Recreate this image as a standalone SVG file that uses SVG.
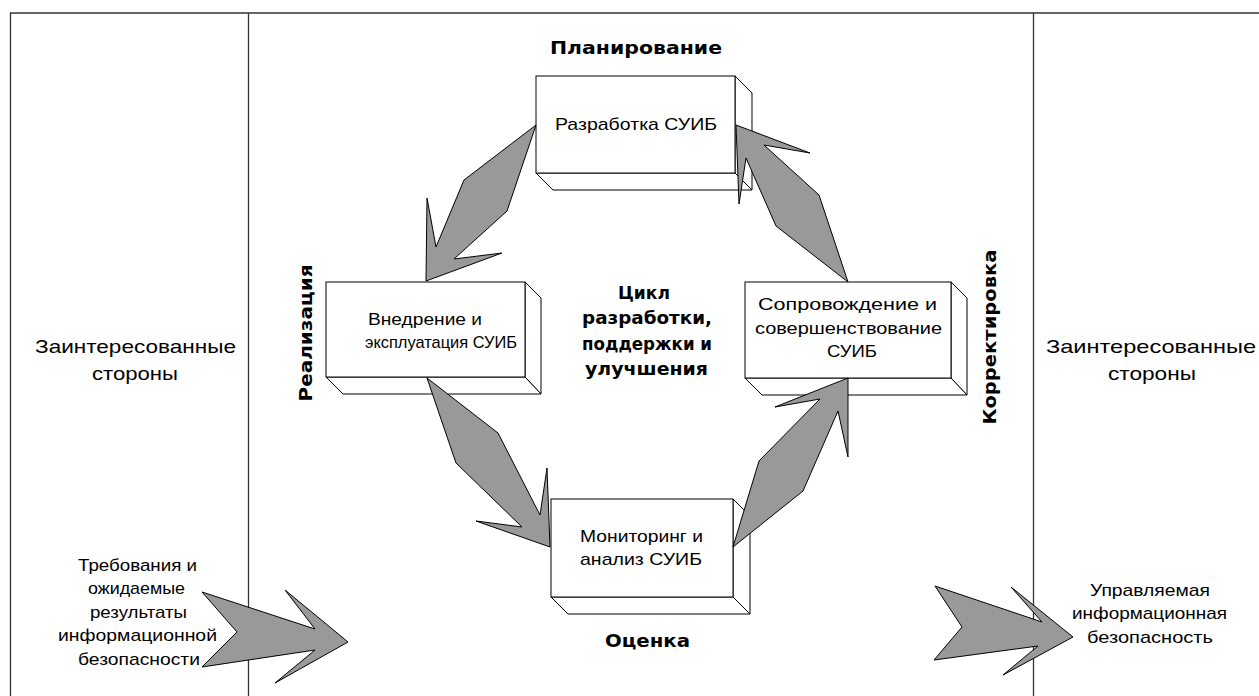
<svg xmlns="http://www.w3.org/2000/svg" width="1259" height="696" viewBox="0 0 1259 696">
<style>
.frame{stroke:#333;stroke-width:1.3;fill:none}
.face{fill:#fff;stroke:#000;stroke-width:1}
.arrow{fill:#999;stroke:#000;stroke-width:1;stroke-linejoin:miter}
.t{font-family:"Liberation Sans",Arial,sans-serif;font-size:17px;fill:#000}
.b{font-family:"DejaVu Sans","Liberation Sans",sans-serif;font-weight:bold;font-size:18px;fill:#000}
.big{font-family:"Liberation Sans",Arial,sans-serif;font-size:19px;fill:#000}
</style>
<rect width="1259" height="696" fill="#fff"/>
<g id="frame">
<line class="frame" x1="10" y1="13" x2="1259" y2="13"/>
<line class="frame" x1="10.5" y1="13" x2="10.5" y2="696"/>
<line class="frame" x1="248.5" y1="13" x2="248.5" y2="696"/>
<line class="frame" x1="1033.5" y1="13" x2="1033.5" y2="696"/>
</g>
<g id="stakeholders-left">
<text class="big" x="35" y="353" textLength="201" lengthAdjust="spacingAndGlyphs">Заинтересованные</text>
<text class="big" x="92" y="380" textLength="86" lengthAdjust="spacingAndGlyphs">стороны</text>
</g>
<g id="stakeholders-right">
<text class="big" x="1046" y="353" textLength="210" lengthAdjust="spacingAndGlyphs">Заинтересованные</text>
<text class="big" x="1108" y="380" textLength="88" lengthAdjust="spacingAndGlyphs">стороны</text>
</g>
<g id="label-plan"><text class="b" x="550" y="54" textLength="172" lengthAdjust="spacingAndGlyphs">Планирование</text></g>
<g id="label-check"><text class="b" x="605" y="647" textLength="85" lengthAdjust="spacingAndGlyphs">Оценка</text></g>
<g id="label-do"><text class="b" transform="translate(312,333) rotate(-90)" text-anchor="middle" textLength="137" lengthAdjust="spacingAndGlyphs">Реализация</text></g>
<g id="label-act"><text class="b" transform="translate(996,337) rotate(-90)" text-anchor="middle" textLength="175" lengthAdjust="spacingAndGlyphs">Корректировка</text></g>
<g id="cycle-title">
<text class="b" x="618" y="299" textLength="52" lengthAdjust="spacingAndGlyphs">Цикл</text>
<text class="b" x="582" y="324" textLength="130" lengthAdjust="spacingAndGlyphs">разработки,</text>
<text class="b" x="582" y="350" textLength="130" lengthAdjust="spacingAndGlyphs">поддержки и</text>
<text class="b" x="585" y="375" textLength="123" lengthAdjust="spacingAndGlyphs">улучшения</text>
</g>
<g id="node-plan">
<polygon class="face" points="735,76 752,93 752,190 735,173"/>
<polygon class="face" points="536,173 553,190 752,190 735,173"/>
<rect class="face" x="536" y="76" width="199" height="97"/>
<text class="t" x="555" y="130" textLength="162" lengthAdjust="spacingAndGlyphs">Разработка СУИБ</text>
</g>
<g id="node-do">
<polygon class="face" points="525,282 541,298 541,394 525,377"/>
<polygon class="face" points="326,377 343,394 541,394 525,377"/>
<rect class="face" x="326" y="282" width="199" height="95"/>
<text class="t" x="368" y="325" textLength="114" lengthAdjust="spacingAndGlyphs">Внедрение и</text>
<text class="t" x="365" y="348" textLength="152" lengthAdjust="spacingAndGlyphs">эксплуатация СУИБ</text>
</g>
<g id="node-act">
<polygon class="face" points="951,282 967,298 967,395 951,378"/>
<polygon class="face" points="745,378 762,395 967,395 951,378"/>
<rect class="face" x="745" y="282" width="206" height="96"/>
<text class="t" x="758" y="310" textLength="179" lengthAdjust="spacingAndGlyphs">Сопровождение и</text>
<text class="t" x="755" y="334" textLength="187" lengthAdjust="spacingAndGlyphs">совершенствование</text>
<text class="t" x="827" y="357" textLength="50" lengthAdjust="spacingAndGlyphs">СУИБ</text>
</g>
<g id="node-check">
<polygon class="face" points="733,499 750,516 750,614 733,597"/>
<polygon class="face" points="551,597 568,614 750,614 733,597"/>
<rect class="face" x="551" y="499" width="182" height="98"/>
<text class="t" x="580" y="542" textLength="123" lengthAdjust="spacingAndGlyphs">Мониторинг и</text>
<text class="t" x="580" y="565" textLength="122" lengthAdjust="spacingAndGlyphs">анализ СУИБ</text>
</g>
<g id="input-text">
<text class="t" x="78" y="571" textLength="119" lengthAdjust="spacingAndGlyphs">Требования и</text>
<text class="t" x="88" y="594" textLength="97" lengthAdjust="spacingAndGlyphs">ожидаемые</text>
<text class="t" x="90" y="618" textLength="97" lengthAdjust="spacingAndGlyphs">результаты</text>
<text class="t" x="58" y="641" textLength="159" lengthAdjust="spacingAndGlyphs">информационной</text>
<text class="t" x="78" y="665" textLength="122" lengthAdjust="spacingAndGlyphs">безопасности</text>
</g>
<g id="output-text">
<text class="t" x="1090" y="596" textLength="120" lengthAdjust="spacingAndGlyphs">Управляемая</text>
<text class="t" x="1072" y="619" textLength="155" lengthAdjust="spacingAndGlyphs">информационная</text>
<text class="t" x="1087" y="643" textLength="126" lengthAdjust="spacingAndGlyphs">безопасность</text>
</g>
<g id="connectors">
<polygon class="arrow" points="426,281 427,198 436,247 464,180 536,125 507,211 454,259 502,253"/>
<polygon class="arrow" points="427,378 498,433 540,515 547,468 550,547 476,521 522,527 456,463"/>
<polygon class="arrow" points="733,547 759,461 820,399 775,407 848,378 848,457 838,411 803,491"/>
<polygon class="arrow" points="848,282 819,195 764,145 810,153 736,125 739,204 746,158 776,226"/>
<polygon class="arrow" points="202,592 315,629 285,590 348,642 275,683 315,650 202,667 237,632"/>
<polygon class="arrow" points="935,586 1042,622 1011,587 1073,637 1003,675 1038,646 934,660 962,627"/>
</g>
</svg>
